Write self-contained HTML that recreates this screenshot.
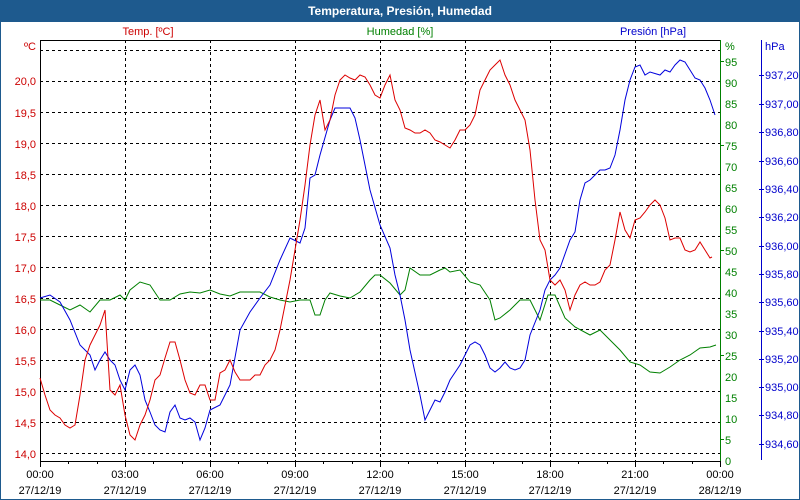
<!DOCTYPE html>
<html><head><meta charset="utf-8"><style>
html,body{margin:0;padding:0;width:800px;height:500px;overflow:hidden;background:#fff}
svg{display:block;font-family:"Liberation Sans","DejaVu Sans",sans-serif}
</style></head><body>
<svg width="800" height="500" viewBox="0 0 800 500">
<rect x="0" y="0" width="800" height="500" fill="#fff"/>
<rect x="0" y="0" width="800" height="21" fill="#1e5a8e"/>
<rect x="0" y="21" width="800" height="479" fill="none" stroke="#1e5a8e" stroke-width="2"/>
<text x="400" y="15" text-anchor="middle" font-size="12" font-weight="bold" fill="#fff">Temperatura, Presión, Humedad</text>
<text x="148" y="35" text-anchor="middle" font-size="11" fill="#cc0000">Temp. [ºC]</text>
<text x="400" y="35" text-anchor="middle" font-size="11" fill="#008000">Humedad [%]</text>
<text x="653" y="35" text-anchor="middle" font-size="11" fill="#0000cc">Presión [hPa]</text>
<g stroke="#000" stroke-dasharray="3,3" stroke-width="1">
<line x1="40" x2="720" y1="50.5" y2="50.5"/><line x1="40" x2="720" y1="81.5" y2="81.5"/>
<line x1="40" x2="720" y1="112.5" y2="112.5"/><line x1="40" x2="720" y1="143.5" y2="143.5"/>
<line x1="40" x2="720" y1="174.5" y2="174.5"/><line x1="40" x2="720" y1="205.5" y2="205.5"/>
<line x1="40" x2="720" y1="236.5" y2="236.5"/><line x1="40" x2="720" y1="267.5" y2="267.5"/>
<line x1="40" x2="720" y1="298.5" y2="298.5"/><line x1="40" x2="720" y1="329.5" y2="329.5"/>
<line x1="40" x2="720" y1="360.5" y2="360.5"/><line x1="40" x2="720" y1="391.5" y2="391.5"/>
<line x1="40" x2="720" y1="422.5" y2="422.5"/><line x1="40" x2="720" y1="453.5" y2="453.5"/>
<line y1="40" y2="461" x1="125.5" x2="125.5"/><line y1="40" y2="461" x1="210.5" x2="210.5"/>
<line y1="40" y2="461" x1="295.5" x2="295.5"/><line y1="40" y2="461" x1="380.5" x2="380.5"/>
<line y1="40" y2="461" x1="465.5" x2="465.5"/><line y1="40" y2="461" x1="550.5" x2="550.5"/>
<line y1="40" y2="461" x1="635.5" x2="635.5"/>
</g>
<line x1="40" x2="720" y1="40.5" y2="40.5" stroke="#000"/>
<line x1="40.5" x2="40.5" y1="40" y2="461" stroke="#000"/>
<line x1="40" x2="720" y1="461.5" y2="461.5" stroke="#000"/>
<line x1="720.5" x2="720.5" y1="40" y2="461" stroke="#008000"/>
<line x1="761.5" x2="761.5" y1="40" y2="460" stroke="#0000cc"/>
<g font-size="11" fill="#cc0000" text-anchor="end">
<text x="36" y="50">ºC</text>
<text x="36" y="85">20,0</text><text x="36" y="117">19,5</text><text x="36" y="148">19,0</text>
<text x="36" y="179">18,5</text><text x="36" y="210">18,0</text><text x="36" y="241">17,5</text>
<text x="36" y="272">17,0</text><text x="36" y="303">16,5</text><text x="36" y="334">16,0</text>
<text x="36" y="365">15,5</text><text x="36" y="396">15,0</text><text x="36" y="427">14,5</text>
<text x="36" y="458">14,0</text>
</g>
<g font-size="11" fill="#008000">
<text x="725" y="50">%</text>
<text x="725" y="66">95</text><text x="725" y="87">90</text><text x="725" y="108">85</text>
<text x="725" y="129">80</text><text x="725" y="150">75</text><text x="725" y="171">70</text>
<text x="725" y="192">65</text><text x="725" y="213">60</text><text x="725" y="234">55</text>
<text x="725" y="255">50</text><text x="725" y="276">45</text><text x="725" y="297">40</text>
<text x="725" y="318">35</text><text x="725" y="339">30</text><text x="725" y="360">25</text>
<text x="725" y="381">20</text><text x="725" y="402">15</text><text x="725" y="423">10</text>
<text x="725" y="444">5</text><text x="725" y="465">0</text>
</g>
<g font-size="11" fill="#0000cc">
<text x="765" y="50">hPa</text>
<text x="765" y="79">937,20</text><text x="765" y="108">937,00</text><text x="765" y="136">936,80</text>
<text x="765" y="165">936,60</text><text x="765" y="193">936,40</text><text x="765" y="221">936,20</text>
<text x="765" y="250">936,00</text><text x="765" y="278">935,80</text><text x="765" y="306">935,60</text>
<text x="765" y="335">935,40</text><text x="765" y="363">935,20</text><text x="765" y="391">935,00</text>
<text x="765" y="419">934,80</text><text x="765" y="448">934,60</text>
</g>
<g stroke="#008000">
<line x1="720" x2="724" y1="61.5" y2="61.5"/><line x1="720" x2="724" y1="145.5" y2="145.5"/><line x1="720" x2="724" y1="250.5" y2="250.5"/><line x1="720" x2="724" y1="355.5" y2="355.5"/><line x1="720" x2="724" y1="439.5" y2="439.5"/>
</g>
<g stroke="#0000cc">
<line x1="759" x2="764" y1="75.5" y2="75.5"/><line x1="759" x2="764" y1="104.5" y2="104.5"/><line x1="759" x2="764" y1="132.5" y2="132.5"/><line x1="759" x2="764" y1="161.5" y2="161.5"/><line x1="759" x2="764" y1="189.5" y2="189.5"/><line x1="759" x2="764" y1="217.5" y2="217.5"/><line x1="759" x2="764" y1="246.5" y2="246.5"/><line x1="759" x2="764" y1="274.5" y2="274.5"/><line x1="759" x2="764" y1="302.5" y2="302.5"/><line x1="759" x2="764" y1="331.5" y2="331.5"/><line x1="759" x2="764" y1="359.5" y2="359.5"/><line x1="759" x2="764" y1="387.5" y2="387.5"/><line x1="759" x2="764" y1="415.5" y2="415.5"/><line x1="759" x2="764" y1="444.5" y2="444.5"/>
</g>
<g stroke="#000">
<path d="M40.5 461v6M125.5 461v6M210.5 461v6M295.5 461v6M380.5 461v6M465.5 461v6M550.5 461v6M635.5 461v6M720.5 461v6"/>
<path d="M68.5 461v3M97.5 461v3M153.5 461v3M182.5 461v3M238.5 461v3M267.5 461v3M323.5 461v3M352.5 461v3M408.5 461v3M437.5 461v3M493.5 461v3M522.5 461v3M578.5 461v3M607.5 461v3M663.5 461v3M692.5 461v3"/>
</g>
<g font-size="11" fill="#000" text-anchor="middle">
<text x="40" y="478">00:00</text><text x="40" y="494">27/12/19</text>
<text x="125" y="478">03:00</text><text x="125" y="494">27/12/19</text>
<text x="210" y="478">06:00</text><text x="210" y="494">27/12/19</text>
<text x="295" y="478">09:00</text><text x="295" y="494">27/12/19</text>
<text x="380" y="478">12:00</text><text x="380" y="494">27/12/19</text>
<text x="465" y="478">15:00</text><text x="465" y="494">27/12/19</text>
<text x="550" y="478">18:00</text><text x="550" y="494">27/12/19</text>
<text x="635" y="478">21:00</text><text x="635" y="494">27/12/19</text>
<text x="720" y="478">00:00</text><text x="720" y="494">28/12/19</text>
</g>
<polyline fill="none" stroke="#008000" stroke-width="1" points="40,300 50,300 60,305 70,310 80,305 90,312 100,300 110,300 120,295 125,300 130,290 140,282 150,285 160,300 170,300 180,294 190,292 200,293 210,290 220,294 230,296 240,292 250,292 260,292 270,297 280,300 290,302 300,300 310,300 315,315 320,315 325,300 330,293 340,296 350,298 360,292 370,280 375,275 380,275 390,283 400,295 405,290 410,268 420,275 430,275 440,270 445,268 450,272 460,270 470,282 480,285 490,300 495,320 500,318 510,310 520,300 530,300 540,320 548,295 555,295 565,318 575,327 590,335 600,330 610,340 620,350 630,362 640,365 650,372 660,373 670,367 680,360 690,355 700,348 710,347 716,345"/>
<polyline fill="none" stroke="#0000dd" stroke-width="1" points="40,298 50,295 60,302 70,320 80,345 90,355 95,370 100,360 105,352 110,360 115,365 120,380 125,390 130,370 135,365 140,375 145,400 150,412 155,425 160,430 165,432 170,412 175,405 180,418 185,420 190,418 195,422 200,440 205,428 210,410 220,405 230,385 240,330 250,312 260,298 270,285 280,260 290,238 300,243 305,228 310,178 315,175 320,155 330,120 335,108 350,108 355,118 360,140 370,190 380,225 390,248 395,275 400,295 405,320 410,350 420,395 425,420 430,410 435,400 440,402 445,392 450,380 460,365 470,345 475,342 480,345 485,355 490,368 495,372 500,368 505,362 510,368 515,370 520,368 525,360 530,335 540,310 545,290 550,280 555,275 560,268 570,240 575,232 580,200 585,183 590,180 595,175 600,170 605,170 610,168 615,155 620,130 625,100 630,80 635,67 640,65 645,75 650,72 660,75 665,70 670,72 675,65 680,60 685,62 690,70 695,78 700,80 705,88 710,100 715,115"/>
<polyline fill="none" stroke="#dd0000" stroke-width="1" points="40,378 45,395 50,410 55,415 60,418 65,425 70,428 75,425 80,395 85,360 90,345 95,335 100,325 105,310 110,390 115,395 120,385 125,415 130,435 135,440 140,425 145,415 150,400 155,380 160,375 165,358 170,342 175,342 180,360 185,380 190,393 195,395 200,385 205,385 210,400 215,400 220,373 225,370 230,360 235,372 240,380 245,380 250,380 255,375 260,375 265,365 270,360 275,350 280,330 285,305 290,280 295,250 300,220 305,185 310,145 315,115 320,100 325,130 330,120 335,95 340,80 345,75 350,78 355,80 360,75 365,77 370,85 375,95 380,98 385,85 390,75 395,100 400,110 405,128 410,130 415,133 420,133 425,130 430,133 435,140 440,142 445,145 450,148 455,140 460,130 465,130 470,125 475,115 480,90 485,80 490,70 495,65 500,60 505,75 510,85 515,100 520,110 525,120 530,150 535,200 540,240 545,250 550,280 555,285 560,280 565,290 570,310 575,295 580,285 585,282 590,285 595,285 600,282 605,270 610,265 615,240 620,212 625,230 630,238 635,220 640,218 645,212 650,205 655,200 660,205 665,218 670,240 675,238 680,238 685,250 690,252 695,250 700,242 705,250 710,258 712,257"/>
</svg>
</body></html>
